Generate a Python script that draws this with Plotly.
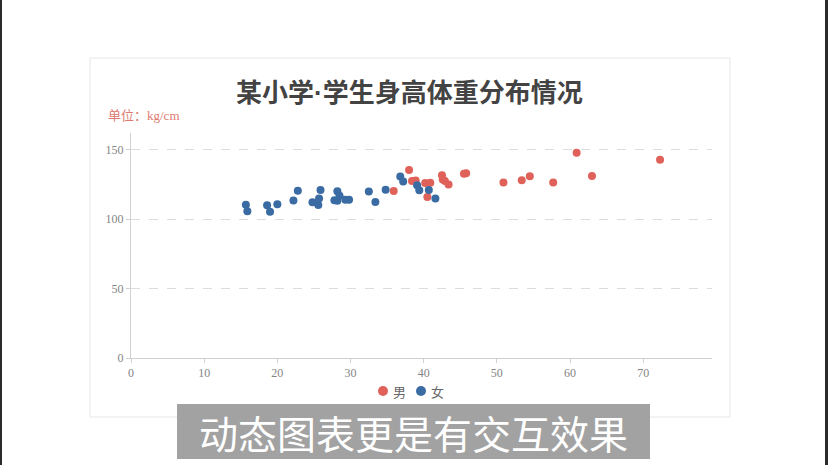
import plotly.graph_objects as go

# ---- data ----
male_weight = [35.9, 38.0, 38.4, 38.9, 40.2, 40.9, 40.5, 42.5, 42.6, 42.9, 43.4, 45.5, 45.8,
               50.9, 53.4, 54.5, 57.7, 60.9, 63.0, 72.3]
male_height = [120.2, 135.4, 127.4, 127.8, 126.0, 126.1, 115.9, 131.5, 128.5, 127.4, 124.9, 132.7, 133.1,
               126.3, 127.9, 130.8, 126.3, 147.8, 131.0, 142.8]
female_weight = [15.7, 15.9, 18.6, 19.0, 20.0, 22.2, 22.8, 24.8, 25.6, 25.7, 25.9, 27.8, 28.2,
                 28.2, 28.5, 29.3, 29.8, 32.5, 33.4, 34.8, 36.8, 37.2, 39.1, 39.4, 40.7, 41.6]
female_height = [110.3, 105.7, 109.9, 105.3, 110.7, 113.4, 120.4, 112.1, 110.1, 114.8, 120.9, 113.6, 113.2,
                 120.0, 116.8, 113.9, 113.9, 119.9, 112.3, 121.2, 130.6, 127.0, 124.3, 120.7, 121.0, 114.8]
series_names = ["男", "女"]
x_ticks = [0, 10, 20, 30, 40, 50, 60, 70]
y_ticks = [0, 50, 100, 150]

title_parts = ["某小学", "·", "学生身高体重分布情况"]
unit_text = "单位：kg/cm"
caption_text = "动态图表更是有交互效果"

W, H = 828, 465
ML, MR, MT, MB = 131, 116, 133, 107
PW, PH = W - ML - MR, H - MT - MB


def px(x):
    return (x - ML) / PW


def py(y):
    return (H - MB - y) / PH


red = "#e0615a"
blue = "#3a6ba3"
colors = [red, blue]
tick_font = dict(family="Liberation Serif, Noto Sans CJK SC", size=12, color="#858585")

fig = go.Figure()
fig.add_trace(go.Scatter(x=male_weight, y=male_height, mode="markers", name=series_names[0],
                         marker=dict(color=red, size=8, line=dict(width=0)), cliponaxis=False,
                         showlegend=False))
fig.add_trace(go.Scatter(x=female_weight, y=female_height, mode="markers", name=series_names[1],
                         marker=dict(color=blue, size=8, line=dict(width=0)), cliponaxis=False,
                         showlegend=False))

title_html = ("<b>" + title_parts[0]
              + "<span style='font-family:Liberation Sans'>" + title_parts[1] + "</span>"
              + title_parts[2] + "</b>")

shapes = [
    dict(type="rect", xref="paper", yref="paper", x0=px(90), x1=px(730), y0=py(58), y1=py(417),
         line=dict(color="#e6e6e6", width=1), fillcolor="rgba(0,0,0,0)", layer="below"),
    dict(type="rect", xref="paper", yref="paper", x0=px(177), x1=px(650), y0=py(404), y1=py(459),
         line=dict(width=0), fillcolor="#a2a2a2", layer="above"),
    dict(type="rect", xref="paper", yref="paper", x0=px(0), x1=px(2), y0=py(0), y1=py(465),
         line=dict(width=0), fillcolor="#2a2a2a", layer="above"),
    dict(type="rect", xref="paper", yref="paper", x0=px(825), x1=px(828), y0=py(0), y1=py(465),
         line=dict(width=0), fillcolor="#2a2a2a", layer="above"),
]
annotations = [
    dict(text=title_html, xref="paper", yref="paper", x=px(409.5), y=py(90),
         xanchor="center", yanchor="middle", showarrow=False,
         font=dict(family="Noto Sans CJK SC", size=26, color="#434343")),
    dict(text=unit_text, xref="paper", yref="paper", x=px(106), y=py(116),
         xanchor="left", yanchor="middle", showarrow=False,
         font=dict(family="Liberation Serif, Noto Sans CJK SC", size=13, color="#e07a70")),
    dict(text=caption_text, xref="paper", yref="paper", x=px(413.5), y=py(432),
         xanchor="center", yanchor="middle", showarrow=False,
         font=dict(family="Noto Sans CJK SC", size=39, color="white")),
]

# custom legend (symbol + label)
legend_x = [383, 421]
legend_y = 391
for name, col, lx in zip(series_names, colors, legend_x):
    shapes.append(dict(type="circle", xref="paper", yref="paper",
                       x0=px(lx - 5), x1=px(lx + 5), y0=py(legend_y - 5), y1=py(legend_y + 5),
                       line=dict(width=0), fillcolor=col, layer="above"))
    annotations.append(dict(text=name, xref="paper", yref="paper", x=px(lx + 8), y=py(legend_y),
                            xanchor="left", yanchor="middle", showarrow=False,
                            font=dict(family="Noto Sans CJK SC", size=13, color="#666")))

fig.update_layout(
    width=W, height=H,
    margin=dict(l=ML, r=MR, t=MT, b=MB),
    paper_bgcolor="white", plot_bgcolor="white",
    font=dict(family="Noto Sans CJK SC"),
    xaxis=dict(range=[0, 79.4], tickvals=x_ticks, showgrid=False, zeroline=False,
               showline=True, linecolor="#d0d0d0", linewidth=1,
               ticks="outside", ticklen=4, tickcolor="#d0d0d0",
               tickfont=tick_font, fixedrange=True),
    yaxis=dict(range=[0, 162], tickvals=y_ticks, showgrid=True, gridcolor="#dcdcdc",
               griddash="dash", gridwidth=1, zeroline=False,
               showline=True, linecolor="#d0d0d0", linewidth=1,
               ticks="outside", ticklen=4, tickcolor="#d0d0d0",
               tickfont=tick_font, fixedrange=True),
    showlegend=False,
    shapes=shapes,
    annotations=annotations,
)

fig.write_html("out.html", config={"displayModeBar": False},
               post_script="document.body.style.margin='0';")
